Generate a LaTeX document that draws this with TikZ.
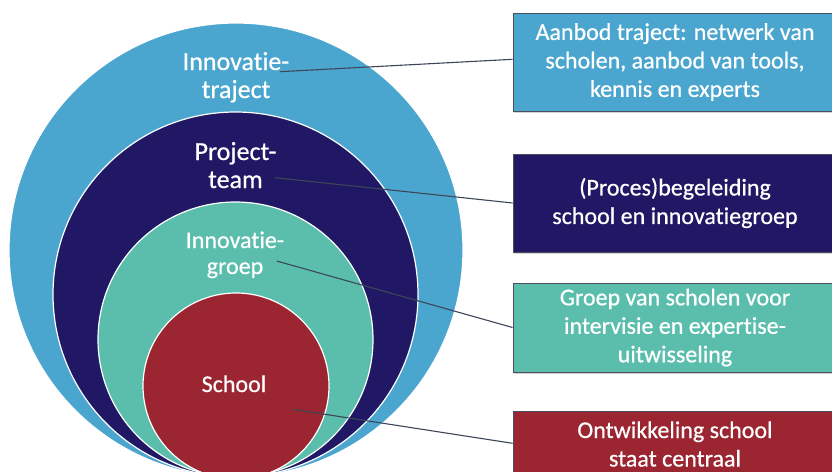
\documentclass[tikz,border=0pt]{standalone}
\usepackage{fontspec}
\setmainfont[Ligatures=NoCommon, FakeBold=0.6]{Carlito}
\usetikzlibrary{shadows}
\definecolor{cblue}{HTML}{4BA6CF}
\definecolor{cnavy}{HTML}{201864}
\definecolor{cteal}{HTML}{5BBEAC}
\definecolor{cred}{HTML}{9B2530}
\definecolor{cline}{HTML}{3C4658}
\definecolor{cborder}{HTML}{4A4F5C}
\begin{document}
\begin{tikzpicture}[x=1pt,y=-1pt,
  ring/.style={circle, draw=white, line width=1.2pt, inner sep=0pt},
  lbl/.style={text=white, align=center, anchor=base, inner sep=0pt},
  bigfont/.style={font=\fontsize{26}{28}\selectfont},
  smallfont/.style={font=\fontsize{24}{26}\selectfont},
  box/.style={rectangle, draw=cborder, line width=0.8pt, text=white, align=center,
    minimum width=324pt, inner sep=0pt, font=\fontsize{24}{28.5}\selectfont,
    drop shadow={opacity=0.35, shadow xshift=0.8pt, shadow yshift=-1.6pt}},
  conn/.style={draw=cline, line width=1.1pt}]
\useasboundingbox (0,0) rectangle (832,471);
\clip (0,0) rectangle (832,471);
\fill[white] (0,0) rectangle (832,471);
% nested circles
\node[ring, fill=cblue, minimum size=454pt] (c1) at (236,250) {};
\node[ring, fill=cnavy, minimum size=365pt] (c2) at (235.5,294.5) {};
\node[ring, fill=cteal, minimum size=275pt] (c3) at (235.5,339.5) {};
\node[ring, fill=cred, minimum size=186pt] (c4) at (236,386) {};
% labels (base anchor = baseline of the last line)
\node[lbl, bigfont] (l1) at (236,98) {Innovatie-\\traject};
\node[lbl, bigfont] (l2) at (235.5,188) {Project-\\team};
\node[lbl, smallfont] (l3) at (235,274) {Innovatie-\\groep};
\node[lbl, smallfont] (l4) at (234,392) {School};
% connector start points
\coordinate (s1) at (280,71.7);
\coordinate (s2) at (275,177.7);
\coordinate (s3) at (276.7,261);
\coordinate (s4) at (292.7,409.3);
% boxes
\node[box, fill=cblue, minimum height=98pt] (b1) at (675,62) {Aanbod traject: netwerk van\\scholen, aanbod van tools,\\kennis en experts};
\node[box, fill=cnavy, minimum height=98pt] (b2) at (675,203) {(Proces)begeleiding\\school en innovatiegroep};
\node[box, fill=cteal, minimum height=89pt] (b3) at (675,327.5) {Groep van scholen voor\\intervisie en expertise-\\uitwisseling};
\node[box, fill=cred, minimum height=66pt] (b4) at (675,444) {Ontwikkeling school\\staat centraal};
% connectors
\draw[conn] (s1) -- ([yshift=2.7pt]b1.west);
\draw[conn] (s2) -- (b2.west);
\draw[conn] (s3) -- (b3.west);
\draw[conn] (s4) -- ([yshift=0.7pt]b4.west);
\end{tikzpicture}
\end{document}
